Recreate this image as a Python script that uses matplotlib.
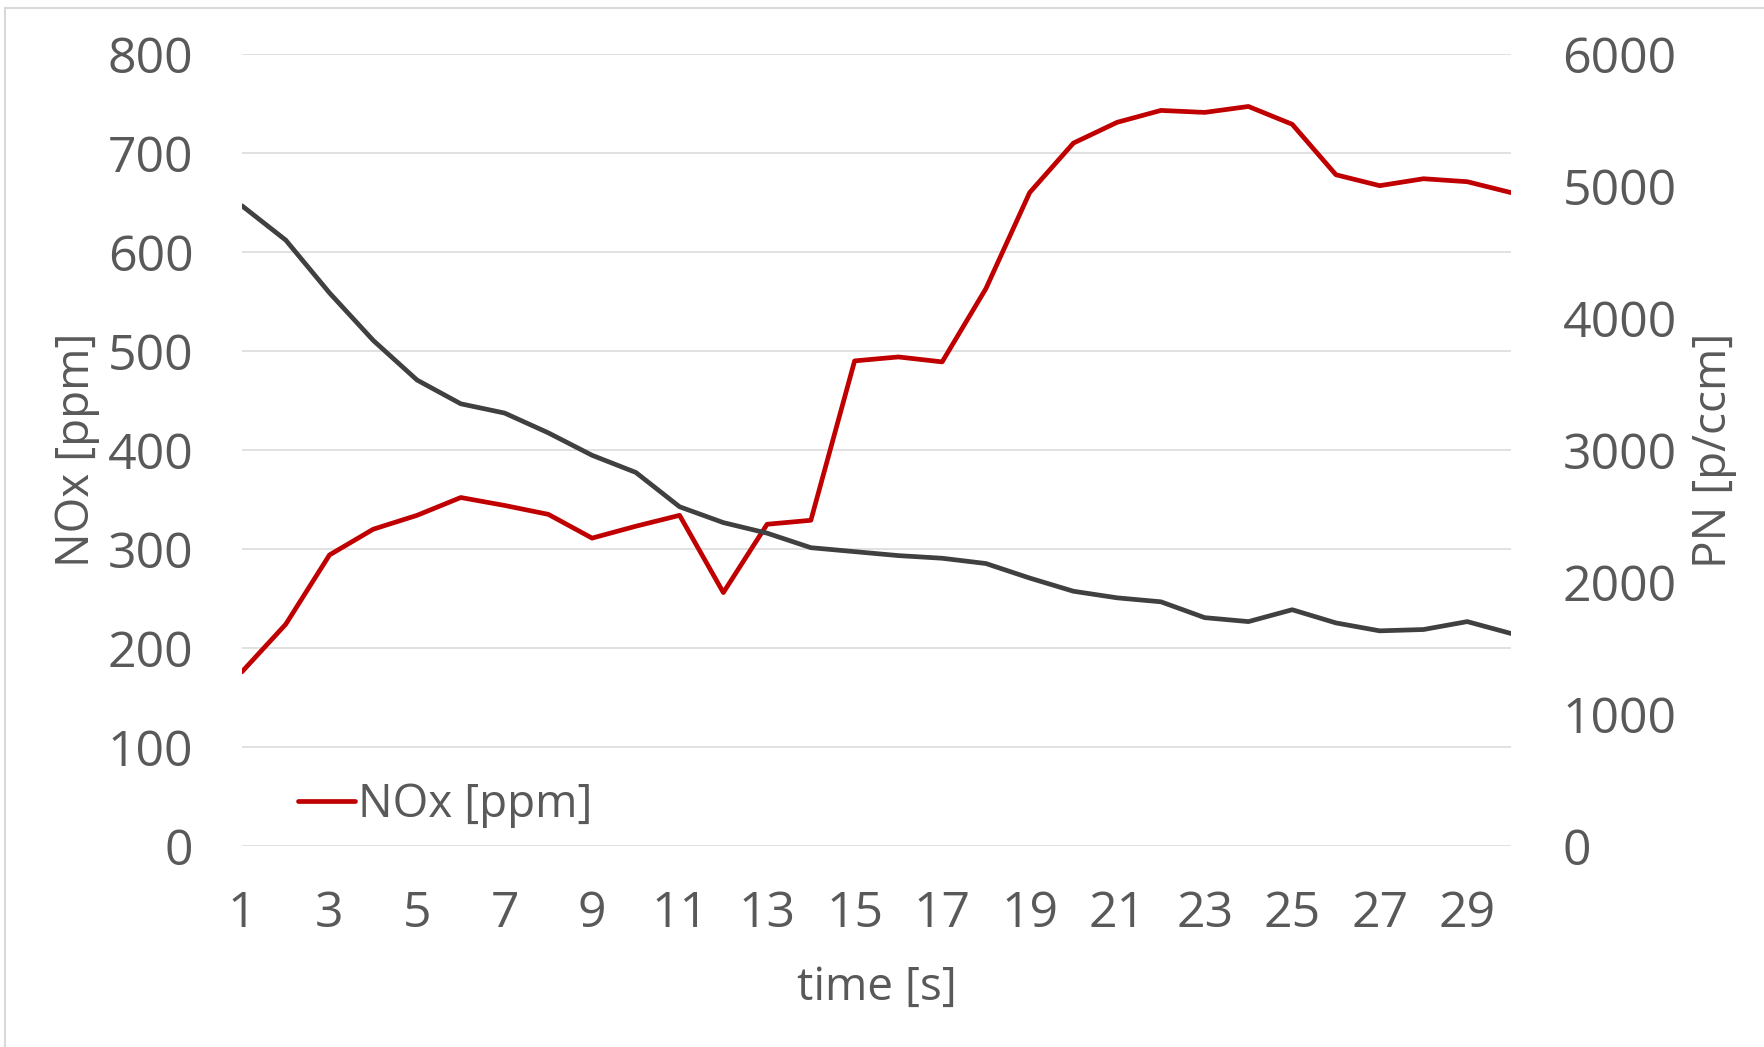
import matplotlib
matplotlib.use("Agg")
import matplotlib.pyplot as plt
from matplotlib.patches import Rectangle

# data
time_s = list(range(1, 31))
nox_ppm = [176, 224, 294, 320, 334, 352, 344, 335, 311, 323,
           334, 256, 325, 329, 490, 494, 489, 563, 660, 710,
           731, 743, 741, 747, 729, 678, 667, 674, 671, 660]
pn_ccm = [4850, 4590, 4190, 3830, 3530, 3350, 3280, 3130, 2960, 2830,
          2570, 2450, 2370, 2260, 2230, 2200, 2180, 2140, 2030, 1930,
          1880, 1850, 1730, 1700, 1790, 1690, 1630, 1640, 1700, 1610]
x_ticks = list(range(1, 31, 2))
nox_ticks = list(range(0, 801, 100))
pn_ticks = list(range(0, 6001, 1000))

plt.rcParams['font.family'] = ['Open Sans', 'DejaVu Sans']
text_col = "#595959"
fs = 36      # tick labels
fs_lab = 33  # axis titles / legend (reference face is narrower)

fig = plt.figure(figsize=(17.65, 10.47), dpi=100)
ax = fig.add_axes([242/1765, 1 - 846/1047, (1511-242)/1765, (846-54)/1047])
ax2 = ax.twinx()

ax.plot(time_s, nox_ppm, color="#C00000", lw=3.4, label="NOx [ppm]",
        solid_joinstyle="round", solid_capstyle="round")
ax2.plot(time_s, pn_ccm, color="#404040", lw=3.4,
         solid_joinstyle="round", solid_capstyle="round")

ax.set_xlim(1, 30)
ax.set_ylim(0, 800)
ax2.set_ylim(0, 6000)
ax.set_xticks(x_ticks)
ax.set_yticks(nox_ticks)
ax2.set_yticks(pn_ticks)

ax.set_axisbelow(True)
ax.yaxis.grid(True, color="#D9D9D9", lw=1.1)
for a in (ax, ax2):
    for s in a.spines.values():
        s.set_visible(False)
    a.tick_params(length=0, labelsize=fs, labelcolor=text_col)
ax.tick_params(axis="y", pad=35)
ax.tick_params(axis="x", pad=31)
ax2.tick_params(axis="y", pad=37)

ax.set_ylabel("NOx [ppm]", fontsize=fs_lab, color=text_col)
ax.yaxis.set_label_coords(-0.112, 0.5)
ax2.set_ylabel("PN [p/ccm]", fontsize=fs_lab, color=text_col)
ax2.yaxis.set_label_coords(1.142, 0.5)
ax.set_xlabel("time [s]", fontsize=fs_lab, color=text_col)
ax.xaxis.set_label_coords(0.5, -0.150)

leg = ax.legend(loc="center left", bbox_to_anchor=(298/1765, 1 - 805/1047),
                bbox_transform=fig.transFigure, frameon=False, fontsize=fs_lab,
                handlelength=1.25, handletextpad=0.06, borderpad=0, borderaxespad=0)
for t in leg.get_texts():
    t.set_color(text_col)

# light chart border (only top/left visible in the crop)
fig.add_artist(Rectangle((5/1765, -0.02), 1.05, 1 - 8/1047 + 0.02,
                         transform=fig.transFigure, fill=False,
                         edgecolor="#D9D9D9", lw=1.5))

fig.savefig("out.png", dpi=100)
